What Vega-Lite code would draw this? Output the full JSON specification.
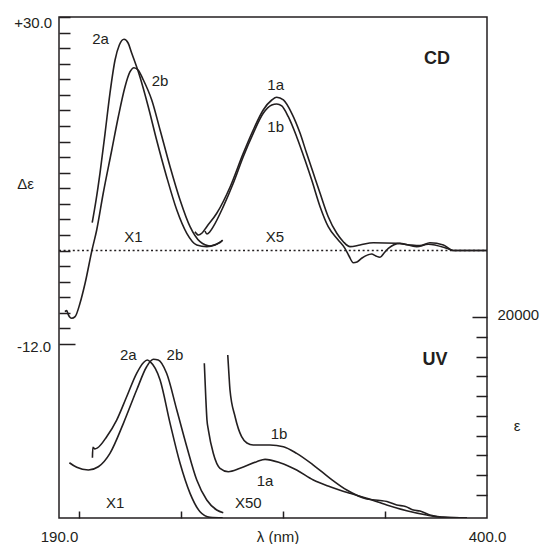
{
  "$schema": "https://vega.github.io/schema/vega-lite/v6.json",
  "width": 428,
  "height": 501,
  "autosize": {"type": "none"},
  "padding": {"left": 59, "top": 17, "right": 55, "bottom": 26},
  "background": "white",
  "config": {
    "view": {"stroke": "#231f20", "strokeWidth": 1.5},
    "font": "Liberation Sans",
    "axis": {
      "labelFont": "Liberation Sans", "titleFont": "Liberation Sans",
      "labelColor": "#231f20", "titleColor": "#231f20", "tickColor": "#231f20",
      "tickWidth": 1.5, "grid": false, "labelFontSize": 15, "titleFontSize": 15,
      "titleFontWeight": "normal", "labelOverlap": false, "labelFlush": false, "domain": false
    }
  },
  "layer": [
    {
      "encoding": {
        "x": {
          "field": "nm", "type": "quantitative",
          "scale": {"domain": [190, 400], "nice": false, "zero": false},
          "axis": {
            "values": [190, 200, 250, 300, 350, 400],
            "tickSize": -7,
            "tickOpacity": {"condition": {"test": "datum.value === 190 || datum.value === 400", "value": 0}, "value": 1},
            "labelExpr": "datum.value === 190 ? '190.0' : datum.value === 400 ? '400.0' : ''",
            "labelBaseline": "middle",
            "labelPadding": 25.7,
            "title": "λ (nm)", "titleX": 218.5, "titleY": 18.7, "titleBaseline": "middle", "titleAlign": "center"
          }
        },
        "y": {
          "field": "v", "type": "quantitative",
          "scale": {"domain": [-34.35, 30], "nice": false, "zero": false},
          "axis": {
            "values": [-12, -10, -8, -6, -4, -2, 0, 2, 4, 6, 8, 10, 12, 14, 16, 18, 20, 22, 24, 26, 28, 30],
            "tickSize": {"condition": {"test": "datum.value === -12", "value": -16}, "value": -11},
            "labelExpr": "datum.value === 30 ? '+30.0' : datum.value === -12 ? '-12.0' : ''",
            "labelPadding": {"condition": {"test": "datum.value === -12", "value": 24.3}, "value": 18.3},
            "labelOffset": {"condition": {"test": "datum.value === 30", "value": 5.5}, "value": 2.5},
            "labelBaseline": "middle",
            "title": "Δε", "titleAngle": 0, "titleX": -34, "titleY": 166, "titleAlign": "center", "titleBaseline": "middle"
          }
        }
      },
      "layer": [
        {
          "data": {"values": [{"nm": 190, "v": 0}, {"nm": 400, "v": 0}]},
          "mark": {"type": "line", "stroke": "#231f20", "strokeWidth": 1.5, "strokeDash": [2, 2.6]}
        },
        {
          "data": {"values": [
            {"s": "2a", "nm": 206.3, "v": 3.58}, {"s": "2a", "nm": 208.2, "v": 6.5}, {"s": "2a", "nm": 210.1, "v": 9.92}, {"s": "2a", "nm": 212.6, "v": 15.06}, {"s": "2a", "nm": 215.0, "v": 20.2}, {"s": "2a", "nm": 217.5, "v": 24.48}, {"s": "2a", "nm": 219.6, "v": 26.4}, {"s": "2a", "nm": 221.9, "v": 27.14}, {"s": "2a", "nm": 223.9, "v": 26.66}, {"s": "2a", "nm": 225.7, "v": 25.34}, {"s": "2a", "nm": 229.7, "v": 22.33}, {"s": "2a", "nm": 233.8, "v": 18.48}, {"s": "2a", "nm": 237.9, "v": 14.2}, {"s": "2a", "nm": 242.8, "v": 9.49}, {"s": "2a", "nm": 247.8, "v": 5.21}, {"s": "2a", "nm": 252.7, "v": 2.22}, {"s": "2a", "nm": 257.6, "v": 0.72}, {"s": "2a", "nm": 262.5, "v": 0.5}, {"s": "2a", "nm": 267.4, "v": 0.84}, {"s": "2a", "nm": 270.1, "v": 1.27},
            {"s": "2b", "nm": 192.9, "v": -7.85}, {"s": "2b", "nm": 193.8, "v": -7.72}, {"s": "2b", "nm": 194.6, "v": -8.27}, {"s": "2b", "nm": 196.2, "v": -8.7}, {"s": "2b", "nm": 197.9, "v": -8.49}, {"s": "2b", "nm": 200.3, "v": -6.77}, {"s": "2b", "nm": 202.8, "v": -4.2}, {"s": "2b", "nm": 206.2, "v": 0.07}, {"s": "2b", "nm": 208.5, "v": 2.64}, {"s": "2b", "nm": 211.7, "v": 7.36}, {"s": "2b", "nm": 215.9, "v": 12.92}, {"s": "2b", "nm": 219.1, "v": 17.19}, {"s": "2b", "nm": 222.4, "v": 21.05}, {"s": "2b", "nm": 224.8, "v": 22.94}, {"s": "2b", "nm": 226.8, "v": 23.49}, {"s": "2b", "nm": 228.8, "v": 23.19}, {"s": "2b", "nm": 231.4, "v": 21.91}, {"s": "2b", "nm": 235.5, "v": 19.34}, {"s": "2b", "nm": 239.6, "v": 15.49}, {"s": "2b", "nm": 244.5, "v": 10.77}, {"s": "2b", "nm": 249.4, "v": 6.5}, {"s": "2b", "nm": 254.3, "v": 3.07}, {"s": "2b", "nm": 259.2, "v": 1.14}, {"s": "2b", "nm": 264.1, "v": 0.59}, {"s": "2b", "nm": 269.0, "v": 1.01}, {"s": "2b", "nm": 270.3, "v": 1.36},
            {"s": "1a", "nm": 256.7, "v": 2.42}, {"s": "1a", "nm": 258.4, "v": 2.0}, {"s": "1a", "nm": 260.2, "v": 2.26}, {"s": "1a", "nm": 262.5, "v": 3.07}, {"s": "1a", "nm": 267.4, "v": 4.79}, {"s": "1a", "nm": 274.0, "v": 8.2}, {"s": "1a", "nm": 280.4, "v": 12.49}, {"s": "1a", "nm": 285.3, "v": 15.49}, {"s": "1a", "nm": 290.2, "v": 18.06}, {"s": "1a", "nm": 294.4, "v": 19.34}, {"s": "1a", "nm": 296.8, "v": 19.69}, {"s": "1a", "nm": 300.1, "v": 19.34}, {"s": "1a", "nm": 304.2, "v": 17.63}, {"s": "1a", "nm": 308.3, "v": 15.06}, {"s": "1a", "nm": 311.5, "v": 12.49}, {"s": "1a", "nm": 314.8, "v": 9.92}, {"s": "1a", "nm": 318.1, "v": 7.36}, {"s": "1a", "nm": 322.1, "v": 4.35}, {"s": "1a", "nm": 326.3, "v": 2.22}, {"s": "1a", "nm": 329.5, "v": 1.14}, {"s": "1a", "nm": 332.8, "v": 0.5}, {"s": "1a", "nm": 337.7, "v": 0.72}, {"s": "1a", "nm": 344.2, "v": 1.01}, {"s": "1a", "nm": 355.7, "v": 0.93}, {"s": "1a", "nm": 362.2, "v": 0.72}, {"s": "1a", "nm": 367.1, "v": 0.63}, {"s": "1a", "nm": 372.0, "v": 1.01}, {"s": "1a", "nm": 378.6, "v": 0.72}, {"s": "1a", "nm": 383.5, "v": 0}, {"s": "1a", "nm": 400, "v": 0},
            {"s": "1b", "nm": 261.6, "v": 2.51}, {"s": "1b", "nm": 262.6, "v": 2.13}, {"s": "1b", "nm": 264.1, "v": 2.45}, {"s": "1b", "nm": 265.7, "v": 3.07}, {"s": "1b", "nm": 270.6, "v": 5.64}, {"s": "1b", "nm": 275.5, "v": 8.64}, {"s": "1b", "nm": 280.4, "v": 12.06}, {"s": "1b", "nm": 285.3, "v": 15.06}, {"s": "1b", "nm": 290.2, "v": 17.63}, {"s": "1b", "nm": 294.4, "v": 18.7}, {"s": "1b", "nm": 296.8, "v": 18.83}, {"s": "1b", "nm": 299.3, "v": 18.57}, {"s": "1b", "nm": 302.5, "v": 17.19}, {"s": "1b", "nm": 306.6, "v": 14.63}, {"s": "1b", "nm": 310.7, "v": 11.63}, {"s": "1b", "nm": 314.0, "v": 9.06}, {"s": "1b", "nm": 318.1, "v": 5.64}, {"s": "1b", "nm": 322.1, "v": 3.07}, {"s": "1b", "nm": 327.0, "v": 1.36}, {"s": "1b", "nm": 330.3, "v": 0.29}, {"s": "1b", "nm": 332.3, "v": -0.7}, {"s": "1b", "nm": 334.4, "v": -1.56}, {"s": "1b", "nm": 336.2, "v": -1.47}, {"s": "1b", "nm": 338.5, "v": -0.99}, {"s": "1b", "nm": 343.4, "v": -0.44}, {"s": "1b", "nm": 345.5, "v": -0.7}, {"s": "1b", "nm": 347.5, "v": -0.86}, {"s": "1b", "nm": 349.5, "v": -0.31}, {"s": "1b", "nm": 351.6, "v": 0.29}, {"s": "1b", "nm": 357.3, "v": 0.93}, {"s": "1b", "nm": 365.5, "v": 0.5}, {"s": "1b", "nm": 371.2, "v": 0.81}, {"s": "1b", "nm": 380.2, "v": 0.29}, {"s": "1b", "nm": 383.5, "v": 0}, {"s": "1b", "nm": 400, "v": 0}
          ]},
          "mark": {"type": "line", "stroke": "#231f20", "strokeWidth": 1.6, "interpolate": "monotone", "clip": true},
          "encoding": {"detail": {"field": "s"}}
        },
        {
          "data": {"values": [
            {"t": "2a", "nm": 210.4, "v": 27.14}, {"t": "2b", "nm": 239.6, "v": 21.78}, {"t": "X1", "nm": 226.5, "v": 1.7}, {"t": "X5", "nm": 296.0, "v": 1.78}, {"t": "1a", "nm": 296.3, "v": 21.27}, {"t": "1b", "nm": 296.3, "v": 15.83},
            {"t": "2a", "nm": 224.0, "v": -13.41}, {"t": "2b", "nm": 246.9, "v": -13.41}, {"t": "1b", "nm": 298.0, "v": -23.56}, {"t": "1a", "nm": 291.1, "v": -29.56}, {"t": "X50", "nm": 282.9, "v": -32.46}, {"t": "X1", "nm": 217.5, "v": -32.46}
          ]},
          "mark": {"type": "text", "font": "Liberation Sans", "fontSize": 15, "fill": "#231f20", "align": "center", "baseline": "middle"},
          "encoding": {"text": {"field": "t"}}
        },
        {
          "data": {"values": [{"t": "CD", "nm": 375.5, "v": 24.61}, {"t": "UV", "nm": 374.5, "v": -14.06}]},
          "mark": {"type": "text", "font": "Liberation Sans", "fontSize": 18, "fontWeight": "bold", "fill": "#231f20", "align": "center", "baseline": "middle"},
          "encoding": {"text": {"field": "t"}}
        }
      ]
    },
    {
      "data": {"values": [
        {"s": "2a", "nm": 206.4, "e": 5750}, {"s": "2a", "nm": 206.6, "e": 6800}, {"s": "2a", "nm": 207.6, "e": 6650}, {"s": "2a", "nm": 208.9, "e": 6750}, {"s": "2a", "nm": 213.4, "e": 7879}, {"s": "2a", "nm": 218.3, "e": 9574}, {"s": "2a", "nm": 223.2, "e": 11939}, {"s": "2a", "nm": 228.1, "e": 14315}, {"s": "2a", "nm": 231.4, "e": 15391}, {"s": "2a", "nm": 233.3, "e": 15665}, {"s": "2a", "nm": 234.7, "e": 15493}, {"s": "2a", "nm": 239.6, "e": 13635}, {"s": "2a", "nm": 244.5, "e": 9239}, {"s": "2a", "nm": 249.4, "e": 5178}, {"s": "2a", "nm": 254.3, "e": 2132}, {"s": "2a", "nm": 259.2, "e": 264}, {"s": "2a", "nm": 264.1, "e": -304}, {"s": "2a", "nm": 270.3, "e": -355},
        {"s": "2b", "nm": 195.1, "e": 5239}, {"s": "2b", "nm": 198.7, "e": 4772}, {"s": "2b", "nm": 204.4, "e": 4498}, {"s": "2b", "nm": 209.3, "e": 4833}, {"s": "2b", "nm": 215.0, "e": 6193}, {"s": "2b", "nm": 221.6, "e": 9239}, {"s": "2b", "nm": 228.1, "e": 12619}, {"s": "2b", "nm": 233.0, "e": 14985}, {"s": "2b", "nm": 236.3, "e": 15736}, {"s": "2b", "nm": 238.7, "e": 15665}, {"s": "2b", "nm": 242.8, "e": 14315}, {"s": "2b", "nm": 247.8, "e": 10589}, {"s": "2b", "nm": 252.7, "e": 6863}, {"s": "2b", "nm": 257.6, "e": 3483}, {"s": "2b", "nm": 262.5, "e": 1453}, {"s": "2b", "nm": 267.4, "e": 437}, {"s": "2b", "nm": 270.6, "e": 163},
        {"s": "1a", "nm": 261.3, "e": 15330}, {"s": "1a", "nm": 262.0, "e": 11939}, {"s": "1a", "nm": 262.6, "e": 9574}, {"s": "1a", "nm": 263.3, "e": 8559}, {"s": "1a", "nm": 265.7, "e": 6193}, {"s": "1a", "nm": 269.0, "e": 4671}, {"s": "1a", "nm": 273.1, "e": 4326}, {"s": "1a", "nm": 278.8, "e": 4671}, {"s": "1a", "nm": 287.0, "e": 5340}, {"s": "1a", "nm": 291.1, "e": 5584}, {"s": "1a", "nm": 298.4, "e": 5239}, {"s": "1a", "nm": 306.6, "e": 4498}, {"s": "1a", "nm": 314.8, "e": 3483}, {"s": "1a", "nm": 323.0, "e": 2803}, {"s": "1a", "nm": 332.8, "e": 2132}, {"s": "1a", "nm": 341.0, "e": 1625}, {"s": "1a", "nm": 350.8, "e": 945}, {"s": "1a", "nm": 360.6, "e": 366}, {"s": "1a", "nm": 370.4, "e": -70}, {"s": "1a", "nm": 378.6, "e": -304}, {"s": "1a", "nm": 390.1, "e": -355},
        {"s": "1b", "nm": 272.8, "e": 16173}, {"s": "1b", "nm": 273.4, "e": 14142}, {"s": "1b", "nm": 273.9, "e": 12619}, {"s": "1b", "nm": 276.4, "e": 9909}, {"s": "1b", "nm": 279.6, "e": 7879}, {"s": "1b", "nm": 282.2, "e": 7239}, {"s": "1b", "nm": 285.3, "e": 7036}, {"s": "1b", "nm": 293.5, "e": 7036}, {"s": "1b", "nm": 300.1, "e": 6863}, {"s": "1b", "nm": 306.6, "e": 6193}, {"s": "1b", "nm": 314.8, "e": 5005}, {"s": "1b", "nm": 323.0, "e": 3655}, {"s": "1b", "nm": 331.2, "e": 2467}, {"s": "1b", "nm": 341.0, "e": 1560}, {"s": "1b", "nm": 347.5, "e": 1402}, {"s": "1b", "nm": 350.9, "e": 1300}, {"s": "1b", "nm": 355.7, "e": 945}, {"s": "1b", "nm": 360.0, "e": 800}, {"s": "1b", "nm": 363.9, "e": 437}, {"s": "1b", "nm": 367.1, "e": 330}, {"s": "1b", "nm": 372.0, "e": -70}, {"s": "1b", "nm": 380.2, "e": -304}, {"s": "1b", "nm": 390.1, "e": -355}
      ]},
      "mark": {"type": "line", "stroke": "#231f20", "strokeWidth": 1.6, "interpolate": "monotone", "clip": true},
      "encoding": {
        "x": {"field": "nm", "type": "quantitative"},
        "y": {
          "field": "e", "type": "quantitative",
          "scale": {"domain": [-371, 50480], "nice": false, "zero": false},
          "axis": {
            "orient": "right",
            "values": [2000, 4000, 6000, 8000, 10000, 12000, 14000, 16000, 18000, 20000],
            "tickSize": {"condition": {"test": "datum.value === 20000", "value": -15}, "value": -11},
            "labelExpr": "datum.value === 20000 ? '20000' : ''",
            "labelPadding": 25, "labelOffset": -2.3, "labelAlign": "left", "labelBaseline": "middle",
            "title": "ε", "titleAngle": 0, "titleX": 29.7, "titleY": 408, "titleAlign": "center", "titleBaseline": "middle"
          }
        },
        "detail": {"field": "s"}
      }
    }
  ],
  "resolve": {"scale": {"y": "independent"}}
}
